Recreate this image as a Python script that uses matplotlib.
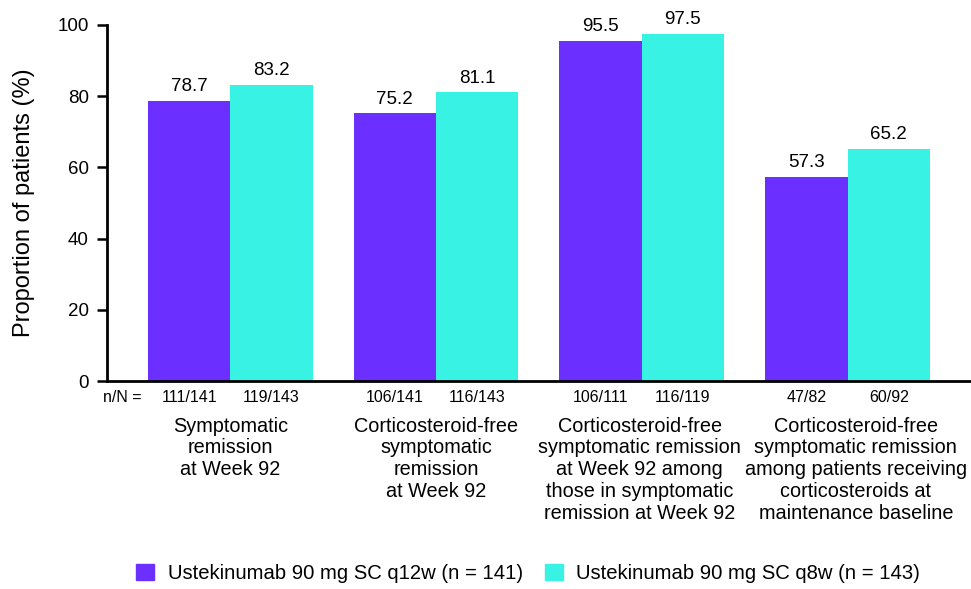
import numpy as np
import matplotlib.pyplot as plt
from matplotlib.patches import Patch

plt.rcParams['font.family'] = ['Liberation Sans', 'DejaVu Sans']

# data
categories = ['Symptomatic\nremission\nat Week 92',
              'Corticosteroid-free\nsymptomatic\nremission\nat Week 92',
              'Corticosteroid-free\nsymptomatic remission\nat Week 92 among\nthose in symptomatic\nremission at Week 92',
              'Corticosteroid-free\nsymptomatic remission\namong patients receiving\ncorticosteroids at\nmaintenance baseline']
q12w = [78.7, 75.2, 95.5, 57.3]
q8w = [83.2, 81.1, 97.5, 65.2]
nN_q12w = ['111/141', '106/141', '106/111', '47/82']
nN_q8w = ['119/143', '116/143', '116/119', '60/92']
series_names = ['Ustekinumab 90 mg SC q12w (n = 141)', 'Ustekinumab 90 mg SC q8w (n = 143)']
colors = ['#6B30FF', '#38F2E4']

fig = plt.figure(figsize=(9.71, 5.89), dpi=100)
ax = fig.add_axes([0.110, 0.353, 0.890, 0.605])

x = np.arange(len(categories))
w = 0.4
b1 = ax.bar(x - w/2, q12w, w, color=colors[0])
b2 = ax.bar(x + w/2, q8w, w, color=colors[1])

for bars, vals in [(b1, q12w), (b2, q8w)]:
    for r, v in zip(bars, vals):
        ax.annotate('%.1f' % v, (r.get_x() + r.get_width()/2, v), xytext=(0, 4),
                    textcoords='offset points', ha='center', va='bottom', fontsize=13.5)

ax.set_xlim(-0.6, 3.6)
ax.set_ylim(0, 100)
ax.set_yticks([0, 20, 40, 60, 80, 100])
ax.tick_params(axis='y', labelsize=13.5, length=7, width=1.8, direction='out', pad=6)
ax.set_xticks([])
for s in ['top', 'right']:
    ax.spines[s].set_visible(False)
ax.spines['left'].set_linewidth(2)
ax.spines['bottom'].set_linewidth(2)
ax.set_ylabel('Proportion of patients (%)', fontsize=17)
ax.yaxis.set_label_coords(-0.083, 0.5)

# n/N row and category labels
trans = ax.get_xaxis_transform()
ax.text(-0.62, -0.045, 'n/N =', transform=trans, ha='left', va='center', fontsize=11.5)
label_shift = [0, 0, -0.01, 0.04]
for i in range(len(categories)):
    ax.text(x[i] - w/2, -0.045, nN_q12w[i], transform=trans, ha='center', va='center', fontsize=11.5)
    ax.text(x[i] + w/2, -0.045, nN_q8w[i], transform=trans, ha='center', va='center', fontsize=11.5)
    ax.text(x[i] + label_shift[i], -0.1, categories[i], transform=trans, ha='center', va='top',
            fontsize=14.3, linespacing=1.18)

handles = [Patch(color=c) for c in colors]
fig.legend(handles, series_names, loc='center', bbox_to_anchor=(0.544, 0.026), ncol=2,
           frameon=False, fontsize=14.6, handlelength=0.9, handleheight=0.85,
           handletextpad=0.65, columnspacing=1.1)

fig.savefig('out.png', dpi=100)
